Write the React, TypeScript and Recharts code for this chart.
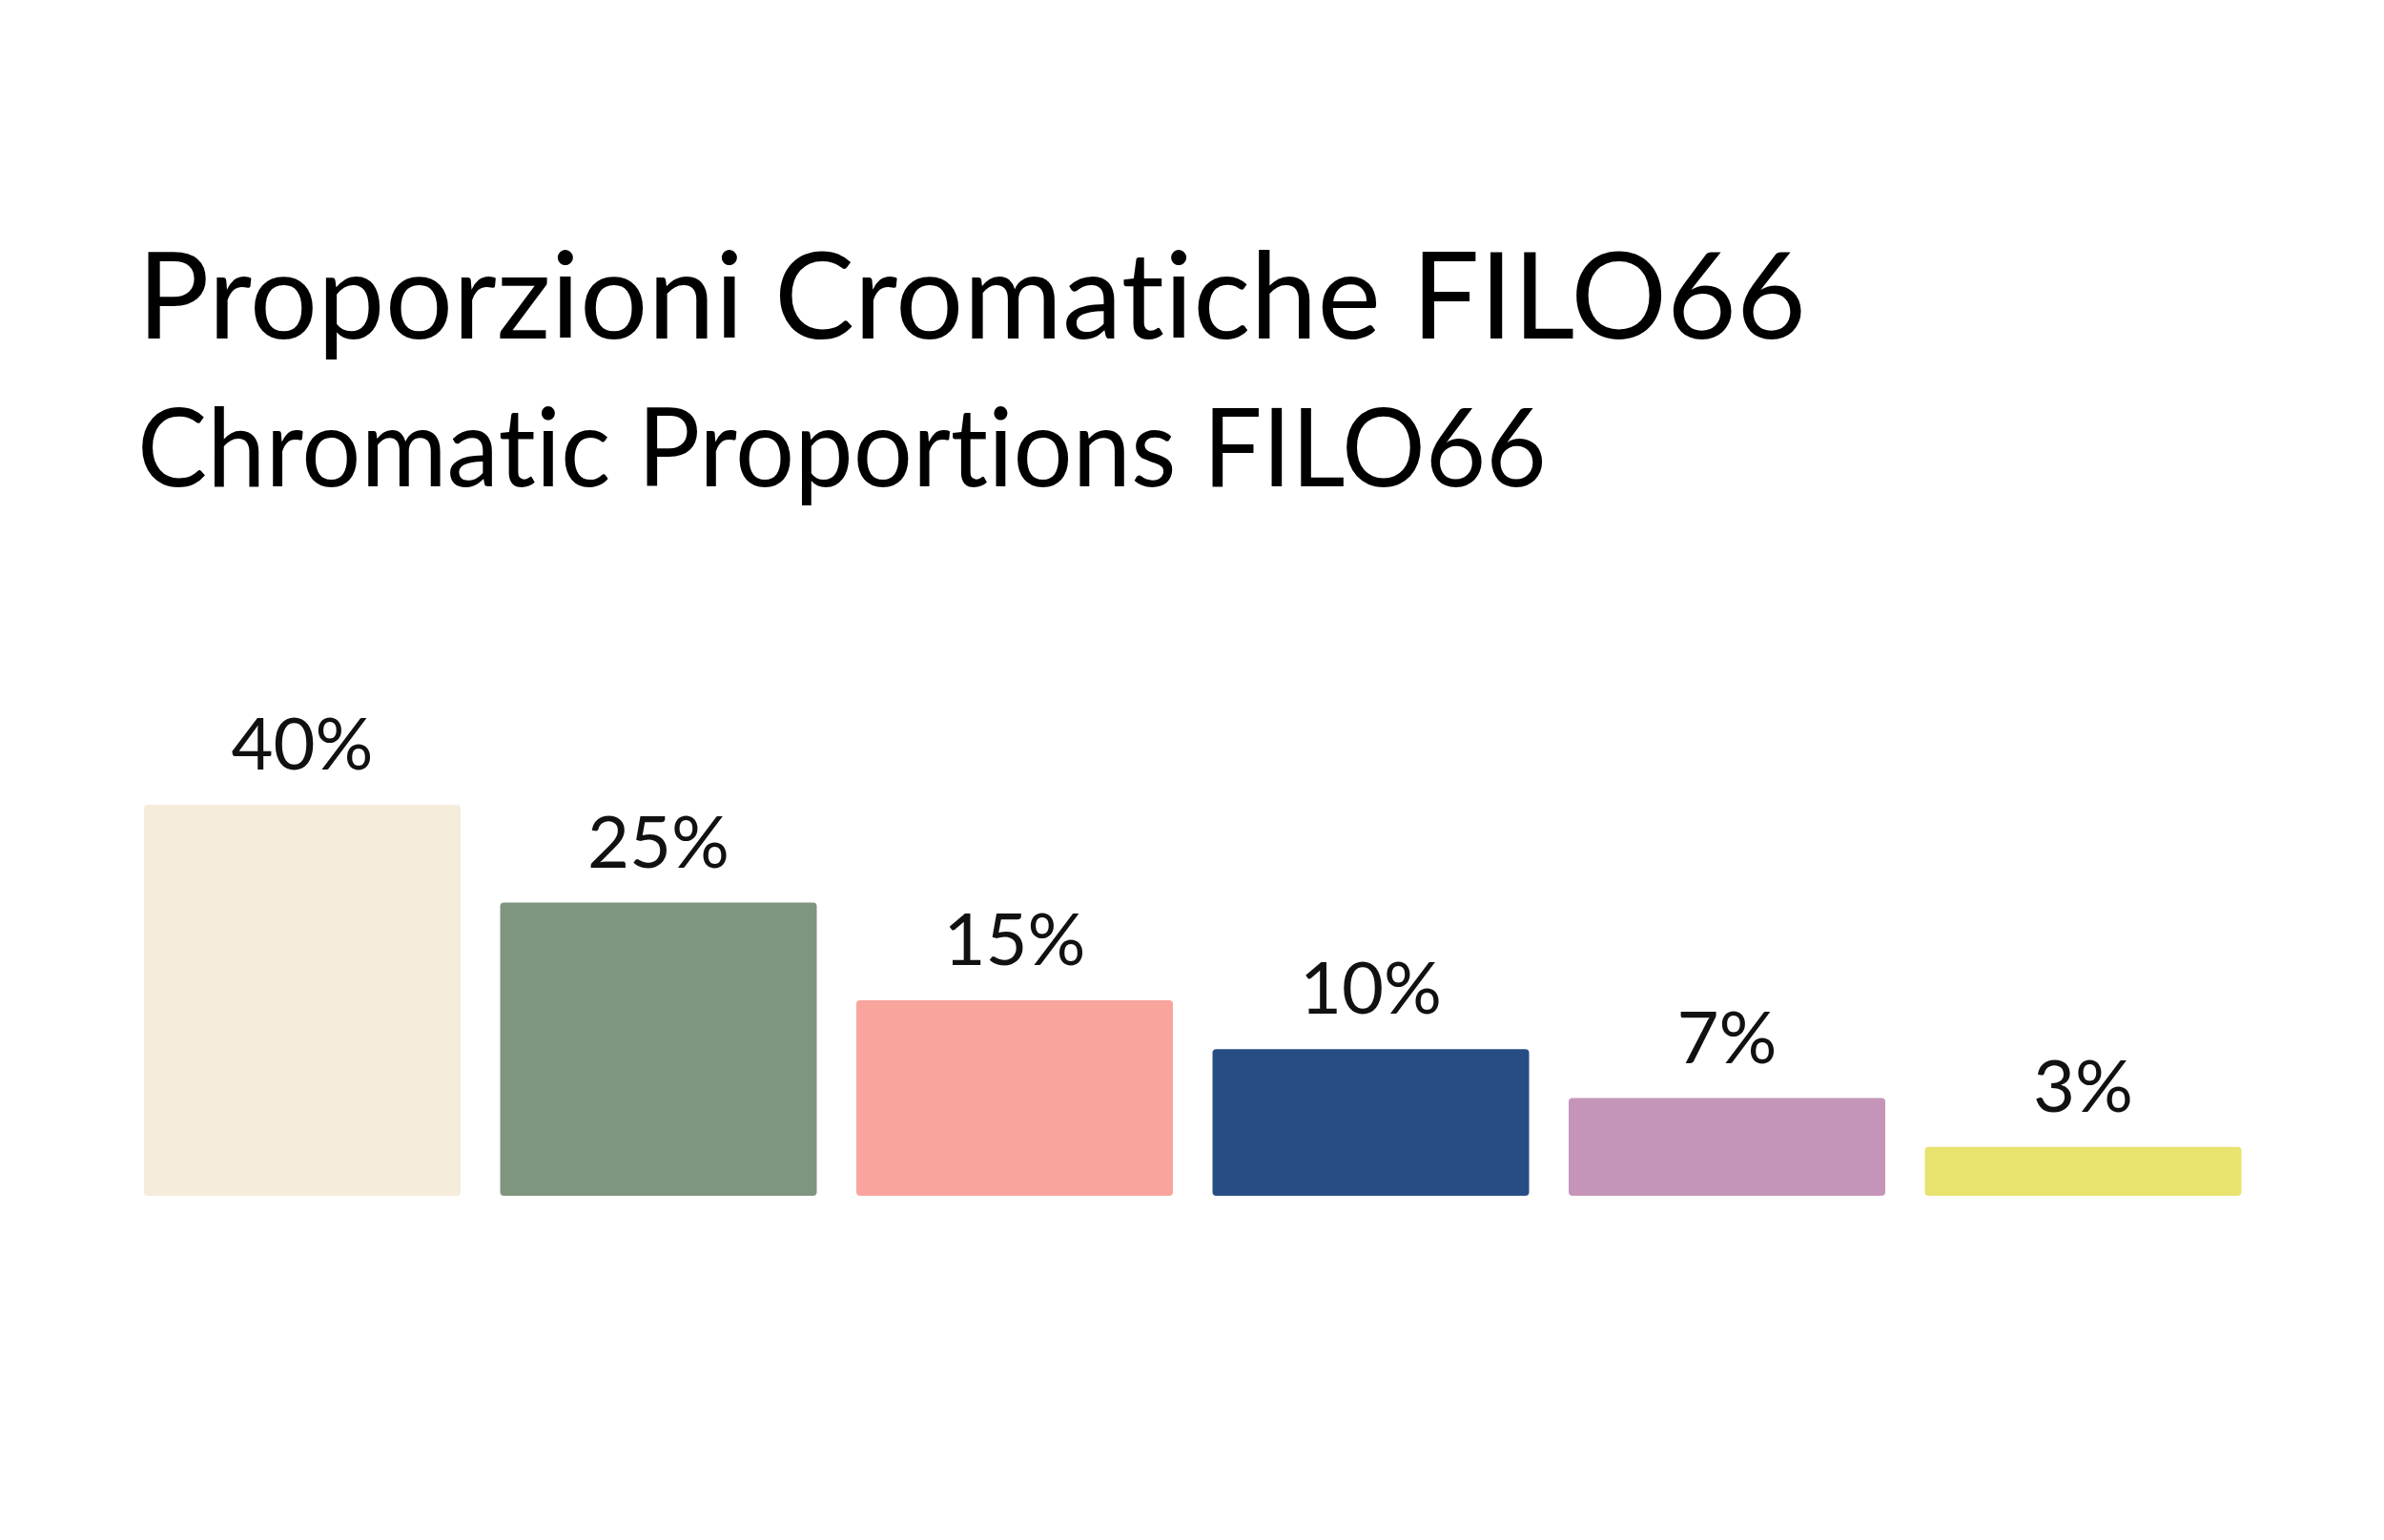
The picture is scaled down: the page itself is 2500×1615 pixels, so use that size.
import React from "react";
import { BarChart, Bar, XAxis, YAxis, Cell, LabelList } from "recharts";

const titleIt = "Proporzioni Cromatiche FILO66";
const titleEn = "Chromatic Proportions FILO66";

// colour groups, left to right
const swatches = ["Crema", "Salvia", "Corallo", "Blu", "Malva", "Giallo"];
// printed percentage labels
const shares = [40, 25, 15, 10, 7, 3];
// drawn bar heights (not proportional to the labels)
const barLevels = [8, 6, 4, 3, 2, 1];
const colors = ["#F5ECDB", "#80957F", "#F9A59E", "#264E84", "#C495B9", "#E7E36E"];

const FONT = "Lato, 'Noto Sans', sans-serif";

export default function App() {
  const data = swatches.map((name, i) => ({
    name,
    level: barLevels[i],
    share: shares[i],
  }));

  const titleStyle = { fontVariantLigatures: "none" as const };

  return (
    <div
      style={{
        position: "absolute",
        left: 0,
        top: 0,
        width: 2500,
        height: 1615,
        background: "#ffffff",
      }}
    >
      <BarChart
        width={2500}
        height={1615}
        data={data}
        margin={{ top: 844, right: 129, left: 130, bottom: 361 }}
        barCategoryGap={21}
      >
        <XAxis dataKey="name" hide />
        <YAxis hide domain={[0, 8]} />
        <Bar dataKey="level" radius={[4, 4, 4, 4]} isAnimationActive={false}>
          {data.map((d, i) => (
            <Cell key={d.name} fill={colors[i]} />
          ))}
          <LabelList
            dataKey="share"
            position="top"
            offset={37}
            formatter={(v: number) => `${v}%`}
            style={{ fontFamily: FONT, fontSize: 76, fontWeight: 400, fill: "#111111" }}
          />
        </Bar>
      </BarChart>
      <svg
        width={2500}
        height={600}
        style={{ position: "absolute", left: 0, top: 0, pointerEvents: "none" }}
      >
        <text
          x={144}
          y={355}
          fontFamily={FONT}
          fontSize={126}
          fontWeight={400}
          fill="#000000"
          textLength={1750}
          lengthAdjust="spacingAndGlyphs"
          style={titleStyle}
        >
          {titleIt}
        </text>
        <text
          x={144}
          y={510}
          fontFamily={FONT}
          fontSize={114}
          fontWeight={400}
          fill="#000000"
          textLength={1478}
          lengthAdjust="spacingAndGlyphs"
          style={titleStyle}
        >
          {titleEn}
        </text>
      </svg>
    </div>
  );
}
